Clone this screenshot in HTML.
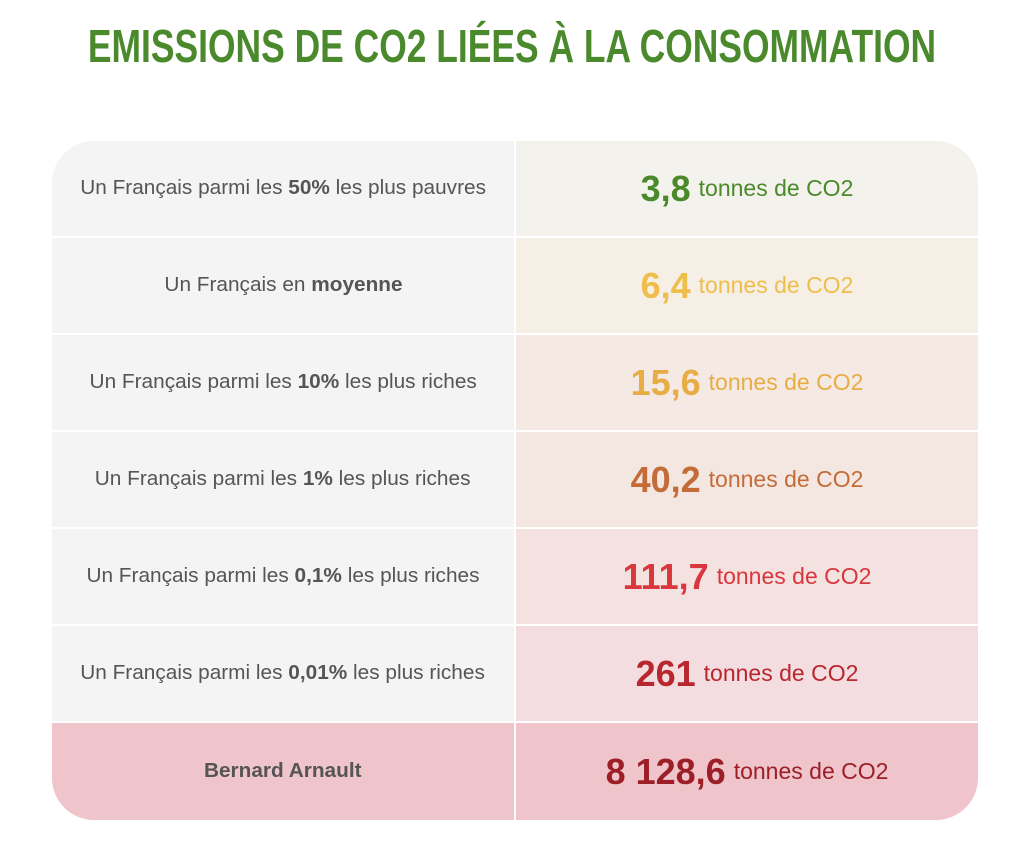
<!DOCTYPE html><html><head><meta charset="utf-8"><style>
body{margin:0;width:1024px;height:852px;background:#fff;font-family:"Liberation Sans",sans-serif;position:relative;overflow:hidden}
.t{position:absolute;top:20px;left:512px;color:#4b8a2c;font-weight:bold;font-size:46px;white-space:nowrap;line-height:52px;transform:translateX(-50%) scaleX(0.77)}
.tbl{position:absolute;left:52px;top:141px;width:926px;height:679px;border-radius:42px;overflow:hidden;background:#fff}
.r{position:absolute;left:0;width:926px;height:95px}
.l,.v{position:absolute;top:0;height:95px;display:flex;align-items:center;justify-content:center;white-space:nowrap}
.l{left:0;width:462px;background:#f5f4f5;color:#555;font-size:20px}
.l span{display:inline-block;transform:scaleX(1.04)}
.v{left:464px;width:462px;font-size:23px}
.v b{font-size:36px;margin-right:8px}
</style></head><body>
<div class="t">EMISSIONS DE CO2 LIÉES À LA CONSOMMATION</div>
<div class="tbl">
<div class="r" style="top:0"><div class="l"><span>Un Français parmi les <b>50%</b> les plus pauvres</span></div><div class="v" style="background:#f3f2ec;color:#4a8a2a"><b>3,8</b>tonnes de CO2</div></div>
<div class="r" style="top:97px"><div class="l"><span>Un Français en <b>moyenne</b></span></div><div class="v" style="background:#f6efe6;color:#efbd4a"><b>6,4</b>tonnes de CO2</div></div>
<div class="r" style="top:194px"><div class="l"><span>Un Français parmi les <b>10%</b> les plus riches</span></div><div class="v" style="background:#f5e9e3;color:#e8ac45"><b>15,6</b>tonnes de CO2</div></div>
<div class="r" style="top:291px"><div class="l"><span>Un Français parmi les <b>1%</b> les plus riches</span></div><div class="v" style="background:#f4e6e1;color:#c46c38"><b>40,2</b>tonnes de CO2</div></div>
<div class="r" style="top:388px"><div class="l"><span>Un Français parmi les <b>0,1%</b> les plus riches</span></div><div class="v" style="background:#f3e2e0;color:#d9363e"><b>111,7</b>tonnes de CO2</div></div>
<div class="r" style="top:485px"><div class="l"><span>Un Français parmi les <b>0,01%</b> les plus riches</span></div><div class="v" style="background:#f3dde0;color:#b8262e"><b>261</b>tonnes de CO2</div></div>
<div class="r" style="top:582px;height:97px"><div class="l" style="background:#f0c4cb;height:97px"><span><b>Bernard Arnault</b></span></div><div class="v" style="background:#f0c4cb;color:#9c1f28;height:97px"><b>8 128,6</b>tonnes de CO2</div></div>
</div>
</body></html>
